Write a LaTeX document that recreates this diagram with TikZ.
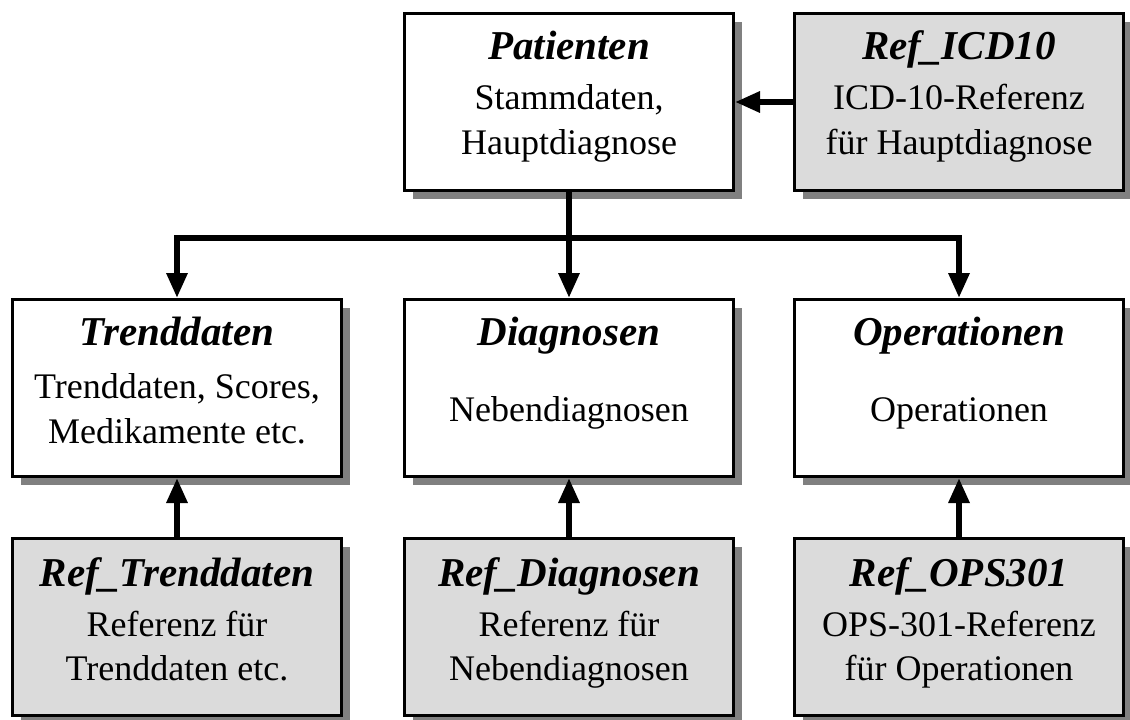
\documentclass[tikz,border=0pt]{standalone}
\usepackage{fontspec}
\setmainfont{Liberation Serif}
\usetikzlibrary{arrows.meta,shadows,calc}

\begin{document}
\begin{tikzpicture}[x=1pt,y=-1pt,
  tbl/.style={draw=black,line width=3pt,minimum width=329pt,minimum height=177pt,
    inner sep=0pt,fill=white,
    drop shadow={shadow xshift=8pt,shadow yshift=-8pt,fill=black!50,opacity=1}},
  reftbl/.style={tbl,fill=black!14},
  ttl/.style={anchor=base,inner sep=0pt,font=\fontsize{41}{45}\selectfont\bfseries\itshape},
  txt/.style={anchor=base,inner sep=0pt,font=\fontsize{36}{45}\selectfont},
  link/.style={line width=6pt,-{Triangle[width=20pt,length=25pt]}}
]
\useasboundingbox (0,0) rectangle (1130,720);

% tables
\node[tbl]    (pat)   at (569,102)  {};
\node[reftbl] (icd)   at (959,102)  {};
\node[tbl]    (trend) at (177,388)  {};
\node[tbl]    (diag)  at (569,388)  {};
\node[tbl]    (ops)   at (959,388)  {};
\node[reftbl] (rtrend) at (177,627) {};
\node[reftbl] (rdiag)  at (569,627) {};
\node[reftbl] (rops)   at (959,627) {};

% titles and descriptions
\node[ttl] (pat-t) at ([yshift=-47pt]pat.north) {Patienten};
\node[txt] (pat-1) at ([yshift=-97pt]pat.north) {Stammdaten,};
\node[txt] (pat-2) at ([yshift=-142pt]pat.north) {Hauptdiagnose};

\node[ttl] (icd-t) at ([yshift=-47pt]icd.north) {Ref\_ICD10};
\node[txt] (icd-1) at ([yshift=-97pt]icd.north) {ICD-10-Referenz};
\node[txt] (icd-2) at ([yshift=-142pt]icd.north) {für Hauptdiagnose};

\node[ttl] (trend-t) at ([yshift=-47pt]trend.north) {Trenddaten};
\node[txt] (trend-1) at ([yshift=-100pt]trend.north) {Trenddaten, Scores,};
\node[txt] (trend-2) at ([yshift=-145pt]trend.north) {Medikamente etc.};

\node[ttl] (diag-t) at ([yshift=-47pt]diag.north) {Diagnosen};
\node[txt] (diag-1) at ([yshift=-123pt]diag.north) {Nebendiagnosen};

\node[ttl] (ops-t) at ([yshift=-47pt]ops.north) {Operationen};
\node[txt] (ops-1) at ([yshift=-123pt]ops.north) {Operationen};

\node[ttl] (rtrend-t) at ([yshift=-49pt]rtrend.north) {Ref\_Trenddaten};
\node[txt] (rtrend-1) at ([yshift=-99pt]rtrend.north) {Referenz für};
\node[txt] (rtrend-2) at ([yshift=-143pt]rtrend.north) {Trenddaten etc.};

\node[ttl] (rdiag-t) at ([yshift=-49pt]rdiag.north) {Ref\_Diagnosen};
\node[txt] (rdiag-1) at ([yshift=-99pt]rdiag.north) {Referenz für};
\node[txt] (rdiag-2) at ([yshift=-143pt]rdiag.north) {Nebendiagnosen};

\node[ttl] (rops-t) at ([yshift=-49pt]rops.north) {Ref\_OPS301};
\node[txt] (rops-1) at ([yshift=-99pt]rops.north) {OPS-301-Referenz};
\node[txt] (rops-2) at ([yshift=-143pt]rops.north) {für Operationen};

% relations
\coordinate (bus) at (569,238);
\draw[link] (icd.west) -- (pat.east);
\draw[link] (pat.south) -- (diag.north);
\draw[link] (pat.south) -- (bus) -| (trend.north);
\draw[link] (pat.south) -- (bus) -| (ops.north);
\draw[link] (rtrend.north) -- (trend.south);
\draw[link] (rdiag.north) -- (diag.south);
\draw[link] (rops.north) -- (ops.south);
\end{tikzpicture}
\end{document}
